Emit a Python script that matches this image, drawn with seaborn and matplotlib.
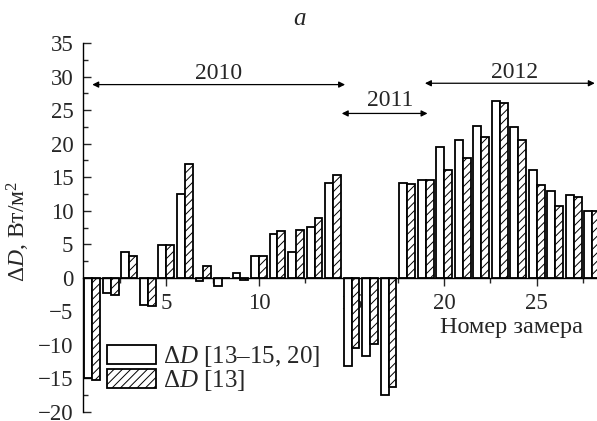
import matplotlib
matplotlib.use("Agg")
import matplotlib.pyplot as plt
import seaborn as sns
import pandas as pd
from matplotlib.patches import Patch
from matplotlib.ticker import MultipleLocator

meas = list(range(1, 29))
d_a = [-15.0, -2.3, 3.8, -4.0, 4.85, 12.5, -0.5, -1.15, 0.65, 3.3, 6.6, 3.9, 7.6, 14.15,
       -13.1, -11.7, -17.4, 14.15, 14.6, 19.5, 20.6, 22.7, 26.4, 22.45, 16.05, 12.9, 12.3, 10.0]
d_b = [-15.3, -2.6, 3.3, -4.2, 4.85, 17.0, 1.7, 0.0, -0.3, 3.2, 6.95, 7.1, 8.9, 15.3,
       -10.5, -9.8, -16.2, 14.05, 14.6, 16.1, 17.9, 21.0, 26.0, 20.6, 13.9, 10.7, 12.1, 9.9]
series = [r"$\Delta D$ [13–15, 20]", r"$\Delta D$ [13]"]
xticks = [5, 10, 15, 20, 25]
yticks = list(range(-20, 40, 5))
years = ["2010", "2011", "2012"]
year_spans = [(1.0, 14.65, 28.8), (14.47, 19.1, 24.5), (18.96, 28.13, 29.0)]
year_text = [(7.8, 29.7), (17.1, 25.6), (23.8, 29.8)]

sns.set_style("white")
plt.rcParams["font.family"] = ["Liberation Serif", "DejaVu Serif"]
plt.rcParams["mathtext.fontset"] = "custom"
plt.rcParams["mathtext.rm"] = "Liberation Serif"
plt.rcParams["mathtext.it"] = "Liberation Serif:italic"
plt.rcParams["hatch.linewidth"] = 0.7
FS_TICK = 16.5
FS_TXT = 17
FS_LAB = 17.5
FS_LEG = 18

df = pd.DataFrame({
    "meas": meas * 2,
    "value": d_a + d_b,
    "series": [series[0]] * len(meas) + [series[1]] * len(meas),
})

fig = plt.figure(figsize=(5.97, 4.21), dpi=100)
ax = fig.add_axes([83 / 597, 1 - 412 / 421, 1 - 83 / 597, 369 / 421])

sns.barplot(data=df, x="meas", y="value", hue="series", hue_order=series,
            native_scale=True, width=0.85, dodge=True,
            palette=["white", "white"], edgecolor="black", linewidth=1.3,
            legend=False, ax=ax, errorbar=None)
for p in ax.containers[1]:
    p.set_hatch("////")

ax.set_xlim(0.5, 28.25)
ax.set_ylim(-20, 35)
ax.spines["top"].set_visible(False)
ax.spines["right"].set_visible(False)
ax.spines["bottom"].set_position(("data", 0))
for s in ["left", "bottom"]:
    ax.spines[s].set_linewidth(1.0)
    ax.spines[s].set_color("black")

ax.set_xticks(xticks)
ax.set_xticklabels([str(t) for t in xticks])
ax.xaxis.set_minor_locator(MultipleLocator(2.5))
ax.set_yticks(yticks)
ax.set_yticklabels([str(t).replace("-", "−") for t in yticks])
ax.yaxis.set_minor_locator(MultipleLocator(2.5))
ax.tick_params(axis="x", which="major", direction="out", length=6, width=1, pad=5, labelsize=FS_TICK)
ax.tick_params(axis="x", which="minor", direction="out", length=3.5, width=1)
ax.tick_params(axis="y", which="major", direction="in", length=6, width=1, pad=7, labelsize=FS_TICK)
ax.tick_params(axis="y", which="minor", direction="in", length=3.5, width=1)
ax.tick_params(left=True, bottom=True, which="both")
for lbl in ax.get_xticklabels():
    lbl.set_bbox(dict(facecolor="white", edgecolor="none", pad=1.5))

ax.set_xlabel("Номер замера", fontsize=FS_LAB)
ax.xaxis.set_label_coords(0.833, 0.257)
ax.set_ylabel(r"$\Delta D$, Вт/м$^2$", fontsize=FS_TXT)
ax.yaxis.set_label_coords(-0.10, 0.49)

for (x0, x1, y), name, (tx, ty) in zip(year_spans, years, year_text):
    ax.annotate("", xy=(x0, y), xytext=(x1, y),
                arrowprops=dict(arrowstyle="<|-|>", color="black", lw=0.9,
                                mutation_scale=9, shrinkA=0, shrinkB=0))
    ax.text(tx, ty, name, ha="center", va="baseline", fontsize=FS_TXT)

ax.text(0.422, 1.035, "a", transform=ax.transAxes, ha="center", va="bottom",
        fontsize=FS_TXT + 1, style="italic", clip_on=False)

handles = [Patch(facecolor="white", edgecolor="black", linewidth=1.3),
           Patch(facecolor="white", edgecolor="black", linewidth=1.3, hatch="////")]
ax.legend(handles=handles, labels=series, loc="center left", bbox_to_anchor=(0.047, 0.118),
          frameon=False, fontsize=FS_LEG, handlelength=1.95, handleheight=0.8,
          handletextpad=0.3, labelspacing=-0.05, borderpad=0, borderaxespad=0)

fig.savefig("out.png", dpi=100)
